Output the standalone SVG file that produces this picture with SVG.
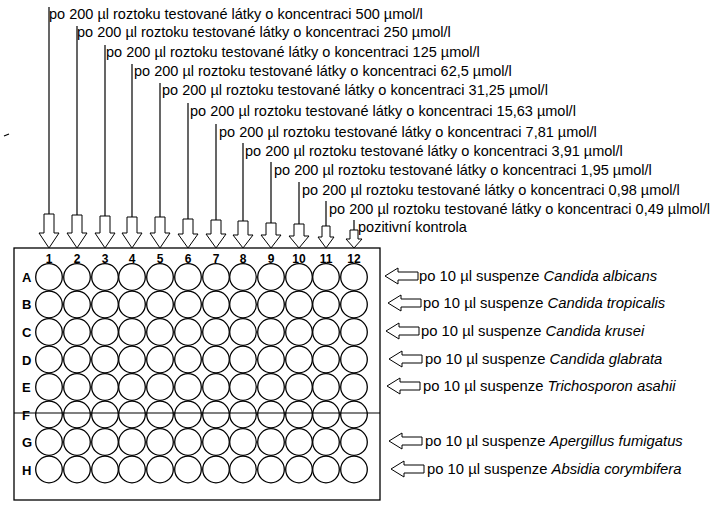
<svg xmlns="http://www.w3.org/2000/svg" width="711" height="509" viewBox="0 0 711 509">
<style>
.t{font-family:"Liberation Sans",Arial,sans-serif;font-size:14.5px;fill:#000}
.r{font-family:"Liberation Sans",Arial,sans-serif;font-size:14.8px;fill:#000}
.b{font-family:"Liberation Sans",Arial,sans-serif;font-size:12px;font-weight:bold;fill:#000;text-anchor:middle}
.w{fill:#fff;stroke:#000;stroke-width:1.3}
.l{stroke:#000;stroke-width:1.2;fill:none}
.a{fill:#fff;stroke:#000;stroke-width:1}
</style>
<defs>
<circle id="well" r="13.3" class="w"/>
<path id="al" class="a" d="M0,0 L13,-8 V-4 H33 V4 H13 V8 Z"/>
</defs>
<rect width="711" height="509" fill="#fff"/>
<line x1="4" y1="136" x2="9" y2="134" class="l"/>
<g id="plate">
<rect x="14" y="248" width="366" height="252" fill="#fff" stroke="#000" stroke-width="1.3"/>
<g id="colnums">
<text class="b" x="49" y="263">1</text><text class="b" x="77" y="263">2</text><text class="b" x="105" y="263">3</text><text class="b" x="132" y="263">4</text><text class="b" x="160" y="263">5</text><text class="b" x="188" y="263">6</text><text class="b" x="216" y="263">7</text><text class="b" x="243" y="263">8</text><text class="b" x="271" y="263">9</text><text class="b" x="299" y="263">10</text><text class="b" x="326" y="263">11</text><text class="b" x="354" y="263">12</text>
</g>
<g id="rowletters" style="font-family:'Liberation Sans',Arial,sans-serif;font-size:13px;font-weight:bold">
<text x="22" y="282">A</text><text x="22" y="309">B</text><text x="22" y="337">C</text><text x="22" y="365">D</text><text x="22" y="392">E</text><text x="22" y="420">F</text><text x="22" y="447">G</text><text x="22" y="475">H</text>
</g>
<g id="wells">
<g id="r0">
<use href="#well" x="49" y="277"/><use href="#well" x="77" y="277"/><use href="#well" x="105" y="277"/><use href="#well" x="132" y="277"/><use href="#well" x="160" y="277"/><use href="#well" x="188" y="277"/><use href="#well" x="216" y="277"/><use href="#well" x="243" y="277"/><use href="#well" x="271" y="277"/><use href="#well" x="299" y="277"/><use href="#well" x="326" y="277"/><use href="#well" x="354" y="277"/>
</g>
<use href="#r0" y="27.5"/><use href="#r0" y="55"/><use href="#r0" y="82.5"/><use href="#r0" y="110"/><use href="#r0" y="137.5"/><use href="#r0" y="165"/><use href="#r0" y="192.5"/>
</g>
<line x1="14" y1="413" x2="380" y2="413" class="l"/>
</g>
<g id="connectors">
<line class="l" x1="49" y1="7" x2="49" y2="214"/>
<line class="l" x1="77" y1="26" x2="77" y2="215"/>
<line class="l" x1="105" y1="45" x2="105" y2="216"/>
<line class="l" x1="132" y1="64" x2="132" y2="217"/>
<line class="l" x1="160" y1="83" x2="160" y2="217"/>
<line class="l" x1="188" y1="103" x2="188" y2="219"/>
<line class="l" x1="216" y1="124" x2="216" y2="220"/>
<line class="l" x1="243" y1="143" x2="243" y2="221"/>
<line class="l" x1="271" y1="162" x2="271" y2="223"/>
<line class="l" x1="299" y1="182" x2="299" y2="224"/>
<line class="l" x1="326" y1="201" x2="326" y2="226"/>
<line class="l" x1="354" y1="220" x2="354" y2="230"/>
<path class="a" d="M44,214 V233 H39 L49,248 L59,233 H54 V214 Z"/>
<path class="a" d="M72,215 V233 H67 L77,248 L87,233 H82 V215 Z"/>
<path class="a" d="M100,216 V233 H95 L105,248 L115,233 H110 V216 Z"/>
<path class="a" d="M127,217 V233 H122 L132,248 L142,233 H137 V217 Z"/>
<path class="a" d="M155,217 V233 H150 L160,248 L170,233 H165 V217 Z"/>
<path class="a" d="M183,219 V234 H178 L188,248 L198,234 H193 V219 Z"/>
<path class="a" d="M211,220 V234 H206 L216,248 L226,234 H221 V220 Z"/>
<path class="a" d="M238,221 V235 H233 L243,248 L253,235 H248 V221 Z"/>
<path class="a" d="M266,223 V235 H261 L271,248 L281,235 H276 V223 Z"/>
<path class="a" d="M294,224 V236 H289 L299,248 L309,236 H304 V224 Z"/>
<path class="a" d="M322,226 V237 H318 L326,248 L334,237 H330 V226 Z"/>
<path class="a" d="M350,230 V239 H346 L354,248 L362,239 H358 V230 Z"/>
<use href="#al" x="385" y="276"/>
<use href="#al" x="388" y="303"/>
<use href="#al" x="386" y="331"/>
<use href="#al" x="389" y="359"/>
<use href="#al" x="387" y="386"/>
<use href="#al" x="389" y="441"/>
<use href="#al" x="391" y="469"/>
</g>
<g id="toplabels">
<text class="t" x="49" y="19">po 200 µl roztoku testované látky o koncentraci 500 µmol/l</text>
<text class="t" x="77" y="37">po 200 µl roztoku testované látky o koncentraci 250 µmol/l</text>
<text class="t" x="106" y="57">po 200 µl roztoku testované látky o koncentraci 125 µmol/l</text>
<text class="t" x="134" y="76">po 200 µl roztoku testované látky o koncentraci 62,5 µmol/l</text>
<text class="t" x="162" y="95">po 200 µl roztoku testované látky o koncentraci 31,25 µmol/l</text>
<text class="t" x="190" y="116">po 200 µl roztoku testované látky o koncentraci 15,63 µmol/l</text>
<text class="t" x="219" y="137">po 200 µl roztoku testované látky o koncentraci 7,81 µmol/l</text>
<text class="t" x="245" y="156">po 200 µl roztoku testované látky o koncentraci 3,91 µmol/l</text>
<text class="t" x="274" y="175">po 200 µl roztoku testované látky o koncentraci 1,95 µmol/l</text>
<text class="t" x="302" y="195">po 200 µl roztoku testované látky o koncentraci 0,98 µmol/l</text>
<text class="t" x="329" y="214">po 200 µl roztoku testované látky o koncentraci 0,49 µlmol/l</text>
<text class="t" x="358" y="232">pozitivní kontrola</text>
</g>
<g id="rightlabels">
<text class="r" x="419" y="281">po 10 µl suspenze <tspan font-style="italic">Candida albicans</tspan></text>
<text class="r" x="423" y="308">po 10 µl suspenze <tspan font-style="italic">Candida tropicalis</tspan></text>
<text class="r" x="421" y="336">po 10 µl suspenze <tspan font-style="italic">Candida krusei</tspan></text>
<text class="r" x="425" y="364">po 10 µl suspenze <tspan font-style="italic">Candida glabrata</tspan></text>
<text class="r" x="423" y="391">po 10 µl suspenze <tspan font-style="italic">Trichosporon asahii</tspan></text>
<text class="r" x="425" y="446">po 10 µl suspenze <tspan font-style="italic">Apergillus fumigatus</tspan></text>
<text class="r" x="427" y="474">po 10 µl suspenze <tspan font-style="italic">Absidia corymbifera</tspan></text>
</g>
</svg>
